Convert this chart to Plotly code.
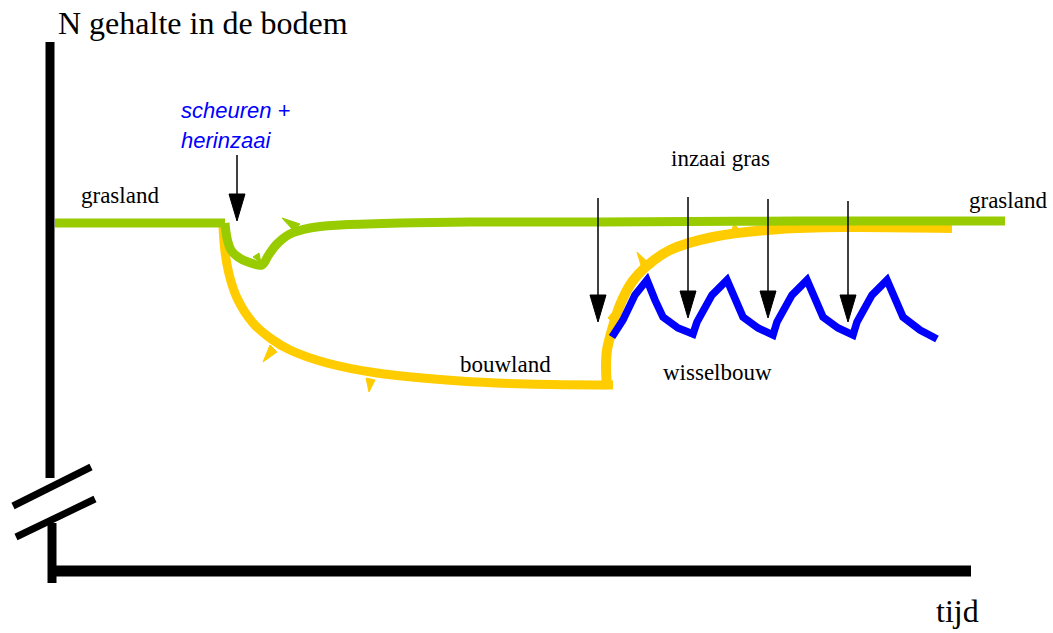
import plotly.graph_objects as go

# schematic curves (x = tijd, y = N gehalte, drawn in page units, y downwards)
gras_links_x = [55, 225]
gras_links_y = [223, 223]

gras_terug_x = [225, 227, 231, 238, 248, 262, 268, 276, 290, 310, 340, 400, 470, 600, 800, 1005]
gras_terug_y = [223, 238, 250, 257, 262, 265, 256, 245, 234, 228, 225, 223, 222, 222, 221, 221]

bouw_x = [223, 225, 229, 237, 253, 270, 290, 327, 377, 460, 527, 613]
bouw_y = [226, 252, 274, 298, 323, 338, 350, 363, 373, 381, 384, 385]

herstel_x = [607, 606, 607, 612, 620, 632, 648, 670, 713, 780, 847, 952]
herstel_y = [389, 365, 350, 330, 305, 282, 265, 250, 237, 229, 227, 228]

wissel_x = [612, 623, 635, 647, 655, 663, 678, 693, 697, 712, 727, 735, 743, 758, 773, 777,
            792, 807, 815, 823, 838, 853, 857, 872, 887, 895, 903, 920, 937]
wissel_y = [337, 320, 295, 280, 300, 317, 328, 334, 322, 295, 280, 300, 317, 328, 335, 322,
            295, 280, 300, 317, 328, 335, 322, 295, 280, 300, 317, 330, 339]

# barbs on the curves: tip, then two base points on the curve
gras_barbs = [((282, 218), (293, 230), (300, 224)),
              ((253, 257), (259, 253), (261, 263))]
bouw_barbs = [((230, 291), (234, 284), (236, 294)),
              ((263, 362), (270, 345), (277, 352)),
              ((369, 392), (366, 378), (375, 380)),
              ((637, 252), (643, 272), (653, 267)),
              ((608, 318), (612, 313), (614, 323)),
              ((734, 224), (731, 232), (740, 230))]

# arrows: x, start y, tip y
pijl_x = [237, 598, 688, 768, 848]
pijl_start = [155, 198, 197, 199, 201]
pijl_tip = [221, 322, 318, 318, 322]

GROEN = "#99cc00"
GEEL = "#ffcc00"
BLAUW = "#0000ff"


def barb(kleur, punten):
    xs = [p[0] for p in punten] + [punten[0][0]]
    ys = [p[1] for p in punten] + [punten[0][1]]
    return go.Scatter(x=xs, y=ys, mode="lines", fill="toself", fillcolor=kleur,
                      line=dict(color=kleur, width=1))


fig = go.Figure()

fig.add_trace(go.Scatter(x=bouw_x, y=bouw_y, mode="lines",
                         line=dict(color=GEEL, width=9, shape="spline")))
fig.add_trace(go.Scatter(x=herstel_x, y=herstel_y, mode="lines",
                         line=dict(color=GEEL, width=10, shape="spline")))
for b in bouw_barbs:
    fig.add_trace(barb(GEEL, b))

fig.add_trace(go.Scatter(x=gras_links_x, y=gras_links_y, mode="lines",
                         line=dict(color=GROEN, width=9)))
fig.add_trace(go.Scatter(x=gras_terug_x, y=gras_terug_y, mode="lines",
                         line=dict(color=GROEN, width=9, shape="spline")))
for b in gras_barbs:
    fig.add_trace(barb(GROEN, b))

fig.add_trace(go.Scatter(x=wissel_x, y=wissel_y, mode="lines",
                         line=dict(color=BLAUW, width=7.5)))

# arrows: shaft + filled head
for x, ys, yt in zip(pijl_x, pijl_start, pijl_tip):
    fig.add_trace(go.Scatter(x=[x, x], y=[ys, yt - 20], mode="lines",
                             line=dict(color="black", width=1.5)))
    fig.add_trace(go.Scatter(x=[x - 8, x + 8, x, x - 8], y=[yt - 27, yt - 27, yt, yt - 27],
                             mode="lines", fill="toself", fillcolor="black",
                             line=dict(color="black", width=1)))

# axes with a break on the vertical one
zwart = dict(color="black", width=9)
fig.add_shape(type="line", x0=50, x1=50, y0=42, y1=478, line=zwart)
fig.add_shape(type="line", x0=52, x1=52, y0=523, y1=583, line=zwart)
fig.add_shape(type="line", x0=56, x1=971, y0=571, y1=571, line=dict(color="black", width=11))
fig.add_shape(type="line", x0=13, x1=91, y0=506, y1=467, line=dict(color="black", width=7))
fig.add_shape(type="line", x0=16, x1=95, y0=537, y1=499, line=dict(color="black", width=7))

serif = "Liberation Serif"
teksten = [
    ("N gehalte in de bodem", 56, 23, 32),
    ("grasland", 79, 195, 23),
    ("grasland", 967, 200, 23),
    ("inzaai gras", 669, 158, 23),
    ("bouwland", 458, 364, 23),
    ("wisselbouw", 661, 372, 23),
    ("tijd", 934, 611, 32),
]
for t, x, y, s in teksten:
    fig.add_annotation(x=x, y=y, xref="x", yref="y", text=t, showarrow=False,
                       xanchor="left", yanchor="middle",
                       font=dict(family=serif, size=s, color="black"))

for t, y in [("scheuren +", 110), ("herinzaai", 140)]:
    fig.add_annotation(x=179, y=y, xref="x", yref="y", text="<i>" + t + "</i>",
                       showarrow=False, xanchor="left", yanchor="middle",
                       font=dict(family="Liberation Sans", size=22, color=BLAUW))

fig.update_layout(
    width=1053, height=633,
    margin=dict(l=0, r=0, t=0, b=0),
    paper_bgcolor="white", plot_bgcolor="white",
    showlegend=False, hovermode=False,
    xaxis=dict(range=[0, 1053], visible=False, fixedrange=True),
    yaxis=dict(range=[633, 0], visible=False, fixedrange=True),
)

fig.write_html("out.html", config={"displayModeBar": False},
               post_script="document.body.style.margin='0';")
